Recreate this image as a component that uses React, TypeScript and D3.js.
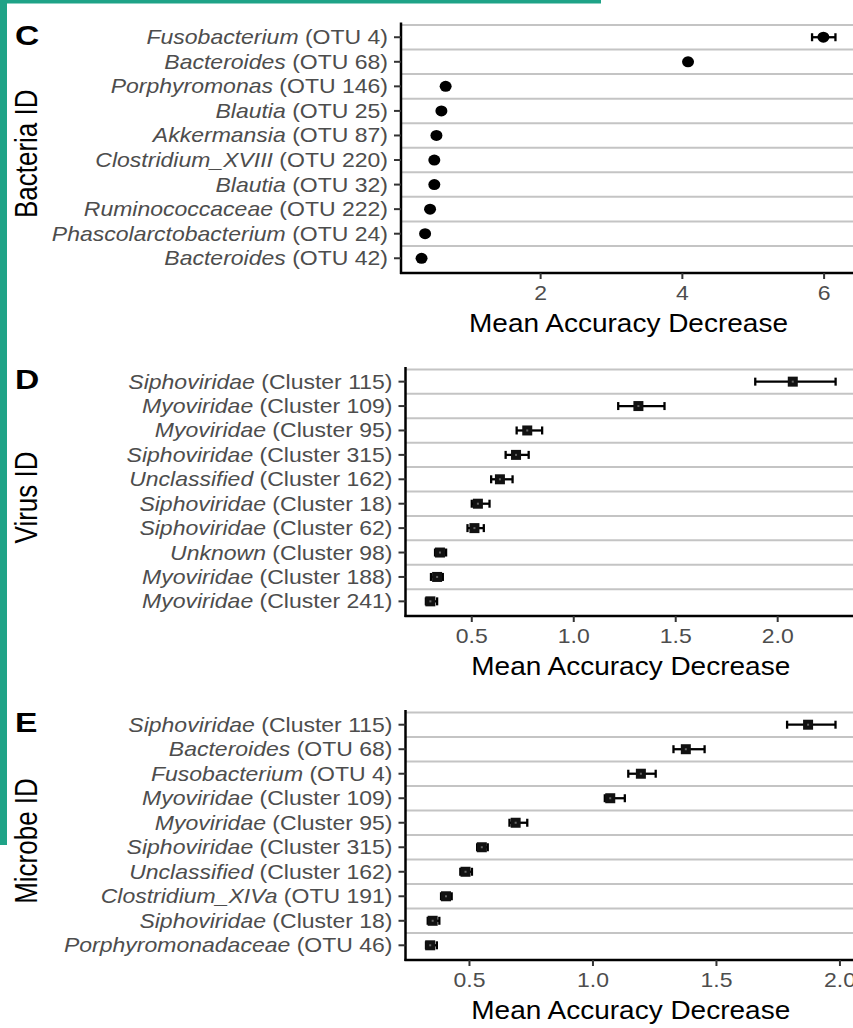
import React from 'react';
import { scaleLinear, scalePoint } from 'd3';

// panel C: bacteria
const bacteriaGenus = ['Fusobacterium', 'Bacteroides', 'Porphyromonas', 'Blautia', 'Akkermansia', 'Clostridium_XVIII', 'Blautia', 'Ruminococcaceae', 'Phascolarctobacterium', 'Bacteroides'];
const bacteriaId = ['OTU 4', 'OTU 68', 'OTU 146', 'OTU 25', 'OTU 87', 'OTU 220', 'OTU 32', 'OTU 222', 'OTU 24', 'OTU 42'];
const bacteriaMean = [5.99, 4.08, 0.66, 0.6, 0.53, 0.5, 0.5, 0.44, 0.37, 0.32];
const bacteriaLow = [5.83, 4.04, 0.63, 0.57, 0.5, 0.47, 0.47, 0.41, 0.34, 0.29];
const bacteriaHigh = [6.16, 4.12, 0.69, 0.63, 0.56, 0.53, 0.53, 0.47, 0.4, 0.35];
const bacteriaTicks = [2, 4, 6];

// panel D: virus
const virusGenus = ['Siphoviridae', 'Myoviridae', 'Myoviridae', 'Siphoviridae', 'Unclassified', 'Siphoviridae', 'Siphoviridae', 'Unknown', 'Myoviridae', 'Myoviridae'];
const virusId = ['Cluster 115', 'Cluster 109', 'Cluster 95', 'Cluster 315', 'Cluster 162', 'Cluster 18', 'Cluster 62', 'Cluster 98', 'Cluster 188', 'Cluster 241'];
const virusMean = [2.074, 1.317, 0.772, 0.717, 0.638, 0.53, 0.513, 0.344, 0.33, 0.297];
const virusLow = [1.89, 1.218, 0.72, 0.666, 0.595, 0.5, 0.479, 0.32, 0.3, 0.275];
const virusHigh = [2.284, 1.445, 0.845, 0.779, 0.7, 0.587, 0.559, 0.374, 0.358, 0.33];

// panel E: microbe
const microbeGenus = ['Siphoviridae', 'Bacteroides', 'Fusobacterium', 'Myoviridae', 'Myoviridae', 'Siphoviridae', 'Unclassified', 'Clostridium_XIVa', 'Siphoviridae', 'Porphyromonadaceae'];
const microbeId = ['Cluster 115', 'OTU 68', 'OTU 4', 'Cluster 109', 'Cluster 95', 'Cluster 315', 'Cluster 162', 'OTU 191', 'Cluster 18', 'OTU 46'];
const microbeMean = [1.871, 1.376, 1.194, 1.07, 0.687, 0.55, 0.484, 0.405, 0.351, 0.341];
const microbeLow = [1.786, 1.326, 1.143, 1.048, 0.662, 0.531, 0.463, 0.385, 0.331, 0.324];
const microbeHigh = [1.982, 1.452, 1.254, 1.129, 0.734, 0.574, 0.51, 0.428, 0.378, 0.368];
const decimalTicks = [0.5, 1.0, 1.5, 2.0];

const FONT = '"Liberation Sans", Arial, Helvetica, sans-serif';
const TEAL = '#1fa387';
const GREY_TEXT = '#4d4d4d';
const SX = 1.15; // the figure is stretched horizontally

type PanelProps = {
  letter: string;
  yTitle: string;
  genus: string[];
  ids: string[];
  mean: number[];
  low: number[];
  high: number[];
  ticks: number[];
  tickFmt: (d: number) => string;
  domain: [number, number];
  top: number;
  bottom: number;
  axisX: number;
  shape: 'circle' | 'square';
};

const RIGHT = 856;

function Panel(p: PanelProps) {
  const x = scaleLinear().domain(p.domain).range([p.axisX, RIGHT]);
  const y = scalePoint<number>()
    .domain(p.genus.map((_, i) => i))
    .range([p.top, p.bottom])
    .padding(0.6);
  const step = y.step();
  const titleX = (p.axisX + RIGHT) / 2;

  return (
    <g>
      {/* grid lines between rows */}
      {p.genus.map((_, i) => (
        <line
          key={'g' + i}
          x1={p.axisX}
          x2={853}
          y1={y(i)! - step / 2}
          y2={y(i)! - step / 2}
          stroke="#c4c4c4"
          strokeWidth={2}
        />
      ))}
      {/* error bars */}
      {p.mean.map((m, i) => (
        <g key={'e' + i} stroke="#000" strokeWidth={2.3}>
          <line x1={x(p.low[i])} x2={x(p.high[i])} y1={y(i)} y2={y(i)} />
          <line x1={x(p.low[i])} x2={x(p.low[i])} y1={y(i)! - 4} y2={y(i)! + 4} />
          <line x1={x(p.high[i])} x2={x(p.high[i])} y1={y(i)! - 4} y2={y(i)! + 4} />
        </g>
      ))}
      {/* points */}
      {p.mean.map((m, i) =>
        p.shape === 'circle' ? (
          <ellipse key={'p' + i} cx={x(m)} cy={y(i)} rx={6} ry={5.5} fill="#000" />
        ) : (
          <g key={'p' + i}>
            <rect x={x(m) - 5} y={y(i)! - 5} width={10} height={10} fill="#111" />
            <rect x={x(m) - 1} y={y(i)! - 1} width={2} height={2} fill="#666" />
          </g>
        ),
      )}
      {/* axes */}
      <line x1={p.axisX} x2={p.axisX} y1={p.top} y2={p.bottom + 1} stroke="#000" strokeWidth={2.5} />
      <line x1={p.axisX - 1} x2={853} y1={p.bottom} y2={p.bottom} stroke="#000" strokeWidth={2.5} />
      {/* y ticks and labels */}
      {p.genus.map((g, i) => (
        <g key={'l' + i}>
          <line x1={p.axisX - 7} x2={p.axisX} y1={y(i)} y2={y(i)} stroke="#333" strokeWidth={2} />
          <text
            transform={`translate(${p.axisX - 13},${y(i)! + 7}) scale(${SX},1)`}
            textAnchor="end"
            fontSize={20}
            fill={GREY_TEXT}
            fontFamily={FONT}
          >
            <tspan fontStyle="italic">{g}</tspan>
            <tspan> ({p.ids[i]})</tspan>
          </text>
        </g>
      ))}
      {/* x ticks and labels */}
      {p.ticks.map((t) => (
        <g key={'t' + t}>
          <line x1={x(t)} x2={x(t)} y1={p.bottom} y2={p.bottom + 6} stroke="#333" strokeWidth={2} />
          <text
            transform={`translate(${x(t)},${p.bottom + 27}) scale(${SX},1)`}
            textAnchor="middle"
            fontSize={20}
            fill={GREY_TEXT}
            fontFamily={FONT}
          >
            {p.tickFmt(t)}
          </text>
        </g>
      ))}
      <text
        transform={`translate(${titleX},${p.bottom + 59}) scale(1.12,1)`}
        textAnchor="middle"
        fontSize={25}
        fill="#000"
        fontFamily={FONT}
      >
        Mean Accuracy Decrease
      </text>
      <text
        transform={`translate(37,${(p.top + p.bottom) / 2 + 6}) scale(1.2,1) rotate(-90)`}
        textAnchor="middle"
        fontSize={26}
        fill="#000"
        fontFamily={FONT}
      >
        {p.yTitle}
      </text>
      <text
        transform={`translate(15,${p.top + 22}) scale(1.2,1)`}
        fontSize={28}
        fontWeight="bold"
        fill="#000"
        fontFamily={FONT}
      >
        {p.letter}
      </text>
    </g>
  );
}

export default function App() {
  return (
    <svg
      width={853}
      height={1028}
      style={{ position: 'absolute', left: 0, top: 0, display: 'block', background: '#fff' }}
    >
      <rect x={0} y={0} width={853} height={1028} fill="#fff" />
      <rect x={0} y={0} width={601} height={3.5} fill={TEAL} />
      <rect x={0} y={0} width={7} height={845} fill={TEAL} />
      <Panel
        letter="C"
        yTitle="Bacteria ID"
        genus={bacteriaGenus}
        ids={bacteriaId}
        mean={bacteriaMean}
        low={bacteriaLow}
        high={bacteriaHigh}
        ticks={bacteriaTicks}
        tickFmt={(d) => String(d)}
        domain={[0.03, 6.45]}
        top={22.5}
        bottom={273}
        axisX={401}
        shape="circle"
      />
      <Panel
        letter="D"
        yTitle="Virus ID"
        genus={virusGenus}
        ids={virusId}
        mean={virusMean}
        low={virusLow}
        high={virusHigh}
        ticks={decimalTicks}
        tickFmt={(d) => d.toFixed(1)}
        domain={[0.175, 2.384]}
        top={367}
        bottom={616}
        axisX={405.5}
        shape="square"
      />
      <Panel
        letter="E"
        yTitle="Microbe ID"
        genus={microbeGenus}
        ids={microbeId}
        mean={microbeMean}
        low={microbeLow}
        high={microbeHigh}
        ticks={decimalTicks}
        tickFmt={(d) => d.toFixed(1)}
        domain={[0.241, 2.065]}
        top={710}
        bottom={960}
        axisX={405.5}
        shape="square"
      />
    </svg>
  );
}
